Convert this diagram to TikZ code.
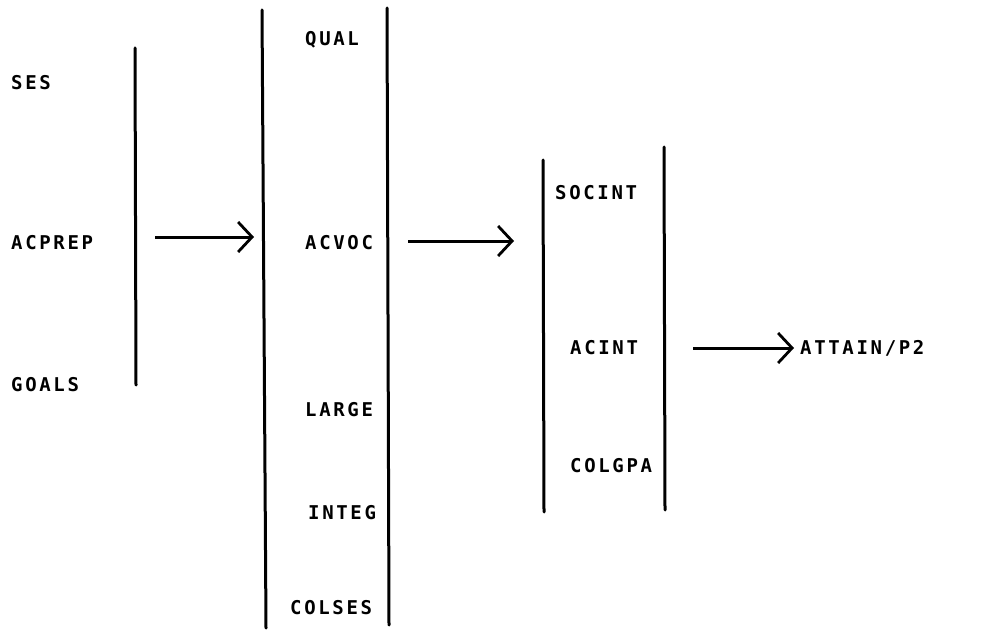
\documentclass[tikz,border=0pt]{standalone}
\usepackage{fontspec}
\usetikzlibrary{arrows.meta}
\newfontfamily\plotfont[LetterSpace=14,BoldFont={DejaVu Sans Mono Bold}]{DejaVu Sans Mono}
\begin{document}
\begin{tikzpicture}[x=1pt,y=-1pt,
  lbl/.style={anchor=west,inner sep=0pt,font=\plotfont\bfseries\fontsize{19}{19}\selectfont},
  bar/.style={line width=3pt,line cap=round},
  arr/.style={line width=3pt,shorten >=1pt,-{Straight Barb[length=14pt,width=30pt,line width=2.8pt]}}]
\useasboundingbox (0,0) rectangle (1008,631);
% group 1
\node[lbl] (ses) at (11,83) {SES};
\node[lbl] (acprep) at (11,243) {ACPREP};
\node[lbl] (goals) at (11,385) {GOALS};
\coordinate (b1t) at (135,48);
\coordinate (b1b) at (136,385);
\draw[bar] (b1t) -- (b1b);
% group 2
\node[lbl] (qual) at (305,40) {QUAL};
\node[lbl] (acvoc) at (305,243) {ACVOC};
\node[lbl] (large) at (305,410) {LARGE};
\node[lbl] (integ) at (308,513) {INTEG};
\node[lbl] (colses) at (290,608) {COLSES};
\coordinate (b2lt) at (262,10);
\coordinate (b2lb) at (266,628);
\coordinate (b2rt) at (387,8);
\coordinate (b2rb) at (389,625);
\draw[bar] (b2lt) -- (b2lb);
\draw[bar] (b2rt) -- (b2rb);
% group 3
\node[lbl] (socint) at (555,193) {SOCINT};
\node[lbl] (acint) at (570,348) {ACINT};
\node[lbl] (colgpa) at (570,466) {COLGPA};
\coordinate (b3lt) at (543,160);
\coordinate (b3lb) at (544,512);
\coordinate (b3rt) at (664,147);
\coordinate (b3rb) at (665,510);
\draw[bar] (b3lt) -- (b3lb);
\draw[bar] (b3rt) -- (b3rb);
% outcome
\node[lbl] (attain) at (800,348) {ATTAIN/P2};
% arrows
\coordinate (a1s) at (155,237);
\coordinate (a1e) at (255,237);
\coordinate (a2s) at (408,241);
\coordinate (a2e) at (515,241);
\coordinate (a3s) at (693,348);
\coordinate (a3e) at (795,348);
\draw[arr] (a1s) -- (a1e);
\draw[arr] (a2s) -- (a2e);
\draw[arr] (a3s) -- (a3e);
\end{tikzpicture}
\end{document}
